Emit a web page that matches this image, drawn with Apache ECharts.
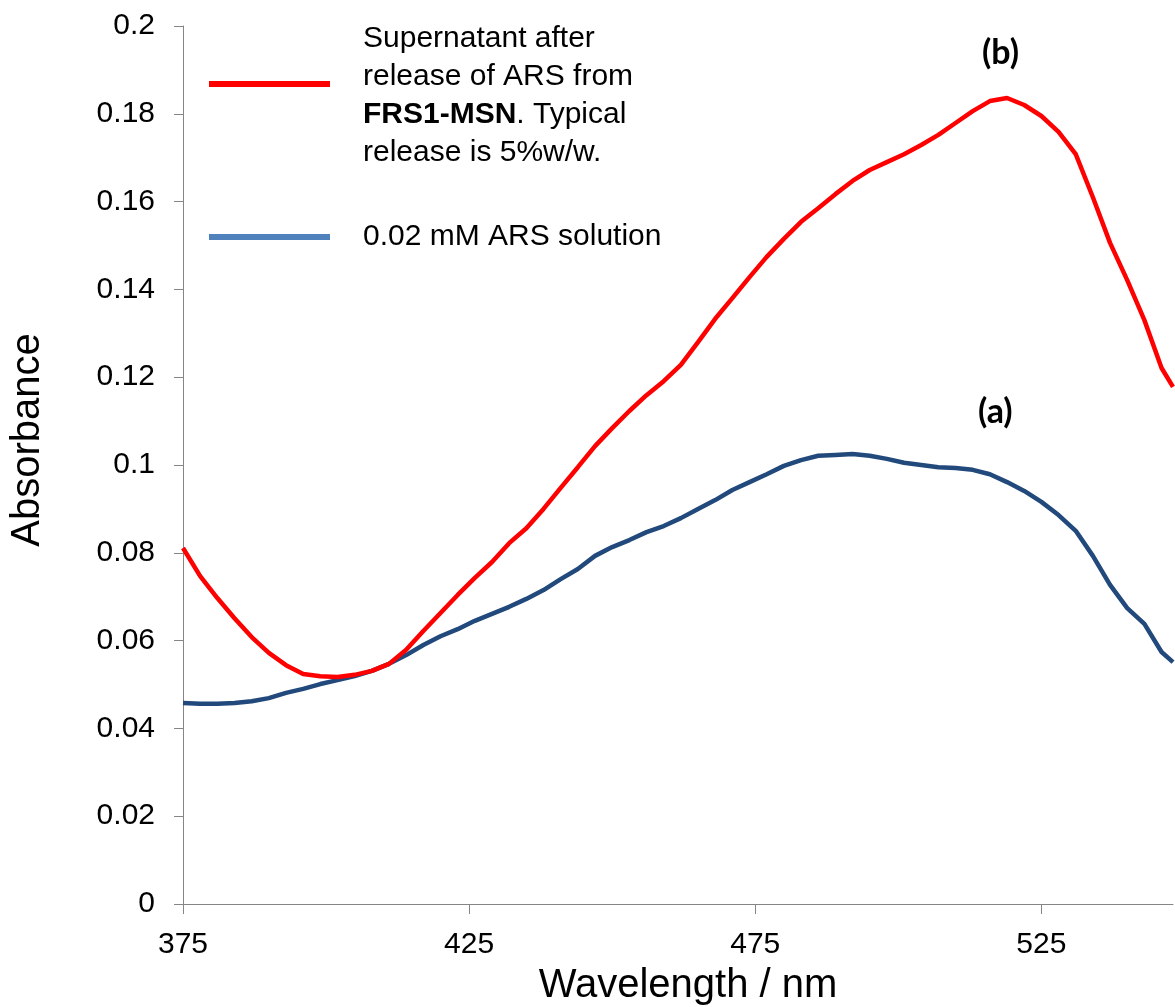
<!DOCTYPE html>
<html>
<head>
<meta charset="utf-8">
<title>Absorbance spectra</title>
<script src="https://cdn.jsdelivr.net/npm/echarts@6.0.0/dist/echarts.min.js"></script>
<style>
  html, body { margin: 0; padding: 0; background: #fff; }
  #chart { width: 1175px; height: 1007px; }
</style>
</head>
<body>
<div id="chart"></div>
<script>
// wavelength in nm
var wavelength = [
  375, 378, 381, 384, 387, 390, 393, 396, 399, 402,
  405, 408, 411, 414, 417, 420, 423, 426, 429, 432,
  435, 438, 441, 444, 447, 450, 453, 456, 459, 462,
  465, 468, 471, 474, 477, 480, 483, 486, 489, 492,
  495, 498, 501, 504, 507, 510, 513, 516, 519, 522,
  525, 528, 531, 534, 537, 540, 543, 546, 548
]
// (b) supernatant after release
var supernatant = [
  0.0811, 0.0747, 0.0697, 0.0651, 0.0608, 0.0572, 0.0544, 0.0524, 0.0519, 0.0517,
  0.0522, 0.0531, 0.0547, 0.0579, 0.0622, 0.0663, 0.0704, 0.0743, 0.0779, 0.0822,
  0.0856, 0.0900, 0.0948, 0.0995, 0.1043, 0.1084, 0.1123, 0.1159, 0.1191, 0.1228,
  0.1280, 0.1333, 0.1380, 0.1428, 0.1474, 0.1515, 0.1554, 0.1585, 0.1617, 0.1647,
  0.1672, 0.1690, 0.1708, 0.1729, 0.1752, 0.1779, 0.1806, 0.1829, 0.1836, 0.1820,
  0.1795, 0.1759, 0.1708, 0.1610, 0.1506, 0.1421, 0.1330, 0.1221, 0.1178
]
// (a) 0.02 mM ARS solution
var arsSolution = [
  0.0458, 0.0456, 0.0456, 0.0458, 0.0462, 0.0469, 0.0481, 0.0490, 0.0501, 0.0510,
  0.0519, 0.0531, 0.0547, 0.0567, 0.0590, 0.0610, 0.0626, 0.0645, 0.0661, 0.0677,
  0.0695, 0.0715, 0.0740, 0.0763, 0.0793, 0.0813, 0.0829, 0.0847, 0.0861, 0.0879,
  0.0900, 0.0920, 0.0943, 0.0961, 0.0979, 0.0998, 0.1011, 0.1021, 0.1023, 0.1025,
  0.1021, 0.1014, 0.1005, 0.1000, 0.0995, 0.0993, 0.0989, 0.0979, 0.0961, 0.0941,
  0.0916, 0.0886, 0.0850, 0.0793, 0.0727, 0.0674, 0.0638, 0.0574, 0.0551
]
var xTicks = [375, 425, 475, 525]

var redName = 'Supernatant'
var blueName = '0.02 mM ARS solution'

function pairs (ys) {
  return wavelength.map(function (x, i) { return [x, ys[i]] })
}

var font = 'Liberation Sans, Arial, sans-serif'
var axisGrey = '#868686'
var tagFont = 'bold 34px Lato, "Open Sans", sans-serif'

var chart = echarts.init(document.getElementById('chart'))
chart.setOption({
  animation: false,
  backgroundColor: '#fff',
  grid: { left: 183, right: 2, top: 26, bottom: 103, outerBoundsMode: 'none' },
  xAxis: {
    type: 'value',
    min: 375,
    max: 548,
    name: 'Wavelength / nm',
    nameLocation: 'middle',
    nameGap: 62,
    nameTextStyle: { fontFamily: font, fontSize: 40, color: '#000', padding: [0, 0, 0, 20] },
    splitLine: { show: false },
    axisLine: { lineStyle: { color: axisGrey, width: 1 } },
    axisTick: { length: 10, lineStyle: { color: axisGrey }, customValues: xTicks },
    axisLabel: { fontFamily: font, fontSize: 30, color: '#000', margin: 26, customValues: xTicks }
  },
  yAxis: {
    type: 'value',
    min: 0,
    max: 0.2,
    interval: 0.02,
    name: 'Absorbance',
    nameLocation: 'middle',
    nameGap: 135,
    nameTextStyle: { fontFamily: font, fontSize: 40, color: '#000', padding: [0, 0, 0, 50] },
    splitLine: { show: false },
    axisLine: { show: true, lineStyle: { color: axisGrey, width: 1 } },
    axisTick: { show: true, length: 9, lineStyle: { color: axisGrey } },
    axisLabel: { fontFamily: font, fontSize: 30, color: '#000', margin: 28 }
  },
  legend: [
    {
      data: [{ name: redName, itemStyle: { color: '#ff0000' } }],
      left: 209,
      top: 24,
      padding: 0,
      icon: 'rect',
      itemWidth: 121,
      itemHeight: 6,
      selectedMode: false,
      formatter: function () {
        return '{n|Supernatant after}\n{n|release of ARS from}\n{b|FRS1-MSN}{n|. Typical}\n{n|release is 5%w/w.}'
      },
      textStyle: {
        padding: [24, 0, 0, 28],
        rich: {
          n: { fontFamily: font, fontSize: 30, color: '#000', lineHeight: 38 },
          b: { fontFamily: font, fontSize: 30, color: '#000', lineHeight: 38, fontWeight: 'bold' }
        }
      }
    },
    {
      data: [{ name: blueName, itemStyle: { color: '#4f81bd' } }],
      left: 209,
      top: 218,
      padding: 0,
      icon: 'rect',
      itemWidth: 121,
      itemHeight: 6,
      selectedMode: false,
      textStyle: { fontFamily: font, fontSize: 30, color: '#000', lineHeight: 38, padding: [0, 0, 0, 28] }
    }
  ],
  graphic: [
    {
      type: 'text',
      left: 982,
      top: 36,
      style: { text: '(b)', font: tagFont, fill: '#000' }
    },
    {
      type: 'text',
      left: 978,
      top: 395,
      style: { text: '(a)', font: tagFont, fill: '#000' }
    }
  ],
  series: [
    {
      name: blueName,
      type: 'line',
      data: pairs(arsSolution),
      showSymbol: false,
      symbol: 'none',
      itemStyle: { color: '#22497c' },
      lineStyle: { color: '#22497c', width: 4.5 },
      z: 2
    },
    {
      name: redName,
      type: 'line',
      data: pairs(supernatant),
      showSymbol: false,
      symbol: 'none',
      itemStyle: { color: '#ff0000' },
      lineStyle: { color: '#ff0000', width: 4.5 },
      z: 3
    }
  ]
})
</script>
</body>
</html>
